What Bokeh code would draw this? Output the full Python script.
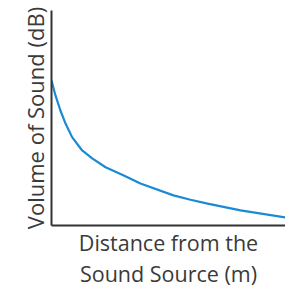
from bokeh.plotting import figure
from bokeh.models import Range1d, Title
from bokeh.embed import file_html
from bokeh.resources import INLINE

# Curve (distance vs. volume, arbitrary units 0-100)
distance = [0, 1.7, 3.8, 6.0, 8.8, 13.1, 17.4, 23.1, 30.9, 38.0, 52.1, 59.4, 66.7, 80.8, 100]
volume = [67.4, 60.5, 53.5, 47.4, 41.1, 34.9, 31.2, 27.1, 23.3, 19.5, 14.0, 12.0, 10.2, 7.0, 3.7]

x_label_lines = ["Distance from the", "Sound Source (m)"]
y_label = "Volume of Sound (dB)"

p = figure(width=285, height=290, output_backend="svg", toolbar_location=None,
           x_range=Range1d(0, 100), y_range=Range1d(0, 100),
           min_border_left=51, min_border_right=0, min_border_top=10, min_border_bottom=65)
p.outline_line_color = None
p.grid.visible = False
p.background_fill_color = "white"
p.border_fill_color = "white"

p.line(distance, volume, line_color="#1a8ad4", line_width=2.2)

for ax in (p.xaxis, p.yaxis):
    ax.major_tick_line_color = None
    ax.minor_tick_line_color = None
    ax.major_tick_out = 0
    ax.major_tick_in = 0
    ax.minor_tick_out = 0
    ax.major_label_standoff = 0
    ax.major_label_text_font_size = "0px"
    ax.major_label_text_color = None
    ax.axis_line_color = "#333333"
    ax.axis_line_width = 2
    ax.axis_label_text_font = "Open Sans"
    ax.axis_label_text_font_style = "normal"
    ax.axis_label_text_font_size = "22px"
    ax.axis_label_text_color = "#3a3a3a"

p.yaxis.axis_label = y_label
p.yaxis.axis_label_standoff = 2

for i, line in enumerate(x_label_lines):
    p.add_layout(Title(text=line, align="center", offset=4, standoff=(0 if i == 0 else 1),
                       text_font="Open Sans", text_font_size="21.5px",
                       text_font_style="normal", text_color="#3a3a3a"), "below")

open("out.html", "w").write(file_html(p, INLINE))
